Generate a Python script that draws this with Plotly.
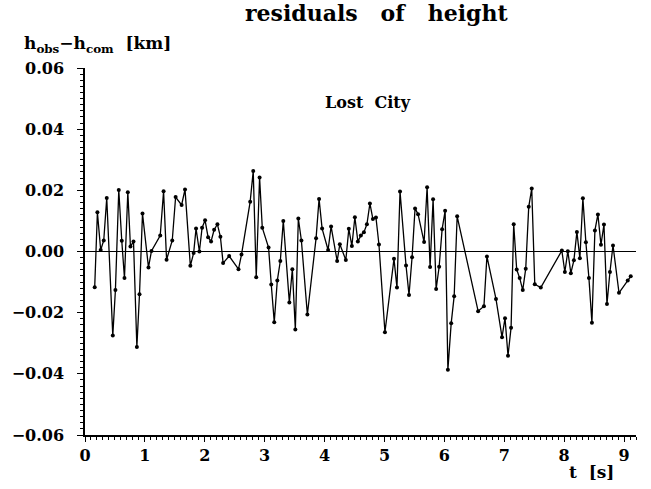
import plotly.graph_objects as go

t_s = [0.162, 0.207, 0.262, 0.313, 0.363, 0.464, 0.508, 0.564, 0.614, 0.659,
       0.715, 0.759, 0.810, 0.866, 0.910, 0.960, 1.060, 1.110, 1.256, 1.312,
       1.362, 1.457, 1.513, 1.613, 1.670, 1.759, 1.814, 1.854, 1.910, 1.955,
       2.005, 2.055, 2.105, 2.156, 2.211, 2.261, 2.306, 2.407, 2.563, 2.613,
       2.758, 2.809, 2.859, 2.915, 2.960, 3.065, 3.110, 3.160, 3.211, 3.261,
       3.311, 3.412, 3.462, 3.512, 3.562, 3.613, 3.713, 3.858, 3.908, 3.959,
       4.059, 4.109, 4.210, 4.255, 4.355, 4.405, 4.456, 4.506, 4.556, 4.606,
       4.657, 4.707, 4.757, 4.807, 4.858, 4.908, 5.008, 5.159, 5.209, 5.260,
       5.360, 5.410, 5.461, 5.511, 5.561, 5.662, 5.712, 5.762, 5.812, 5.863,
       5.913, 5.963, 6.013, 6.059, 6.114, 6.164, 6.214, 6.564, 6.661, 6.711,
       6.862, 6.963, 7.013, 7.063, 7.114, 7.158, 7.208, 7.258, 7.309, 7.359,
       7.409, 7.459, 7.510, 7.610, 7.962, 8.012, 8.062, 8.112, 8.163, 8.213,
       8.263, 8.313, 8.363, 8.414, 8.464, 8.514, 8.564, 8.615, 8.665, 8.715,
       8.765, 8.816, 8.916, 9.062, 9.112]

residual_km = [-0.0117, 0.0128, 0.0005, 0.0036, 0.0175, -0.0275, -0.0126, 0.0201, 0.0035, -0.0087,
               0.0194, 0.0016, 0.0033, -0.0312, -0.0140, 0.0124, -0.0052, 0.0002, 0.0052, 0.0197,
               -0.0027, 0.0036, 0.0178, 0.0152, 0.0203, -0.0047, -0.0005, 0.0075, 0.0000, 0.0078,
               0.0102, 0.0047, 0.0033, 0.0071, 0.0089, 0.0048, -0.0038, -0.0015, -0.0058, -0.0010,
               0.0163, 0.0263, -0.0084, 0.0242, 0.0078, 0.0013, -0.0108, -0.0231, -0.0095, -0.0031,
               0.0100, -0.0167, -0.0058, -0.0255, 0.0108, 0.0036, -0.0206, 0.0043, 0.0172, 0.0075,
               0.0005, 0.0082, -0.0031, 0.0024, -0.0028, 0.0074, 0.0018, 0.0112, 0.0033, 0.0052,
               0.0063, 0.0089, 0.0157, 0.0106, 0.0111, 0.0023, -0.0264, -0.0024, -0.0118, 0.0196,
               -0.0046, -0.0142, -0.0019, 0.0141, 0.0122, 0.0031, 0.0210, -0.0051, 0.0171, -0.0123,
               -0.0050, 0.0073, 0.0133, -0.0387, -0.0235, -0.0146, 0.0115, -0.0195, -0.0179, -0.0016,
               -0.0155, -0.0280, -0.0218, -0.0341, -0.0249, 0.0089, -0.0059, -0.0087, -0.0126, -0.0056,
               0.0146, 0.0206, -0.0107, -0.0118, 0.0003, -0.0067, 0.0001, -0.0071, -0.0029, 0.0064,
               -0.0022, 0.0174, 0.0030, -0.0087, -0.0233, 0.0069, 0.0121, 0.0022, 0.0088, -0.0172,
               -0.0067, 0.0020, -0.0135, -0.0095, -0.0081]

x_ticks = [0, 1, 2, 3, 4, 5, 6, 7, 8, 9]
y_ticks = [-0.06, -0.04, -0.02, 0.00, 0.02, 0.04, 0.06]

FONT = "DejaVu Serif"

fig = go.Figure()
fig.add_trace(go.Scatter(
    x=t_s, y=residual_km, mode="lines+markers",
    line=dict(color="black", width=1.3),
    marker=dict(color="black", size=4),
    showlegend=False,
))

axis_common = dict(
    showline=True, linecolor="black", linewidth=1.5,
    ticks="outside", tickcolor="black", tickwidth=1.2,
    showgrid=False, mirror=False,
    tickfont=dict(family=FONT, size=16, color="black", weight="bold"),
)

fig.update_xaxes(
    range=[0, 9.2], tickvals=x_ticks, zeroline=False, ticklen=5, ticklabelstandoff=0,
    minor=dict(dtick=0.1, ticklen=3, ticks="outside", tickcolor="black", tickwidth=1, showgrid=False),
    **axis_common,
)
fig.update_yaxes(
    range=[-0.06, 0.06], tickvals=y_ticks, tickformat=".2f", ticklen=6,
    zeroline=True, zerolinecolor="black", zerolinewidth=1.2, ticklabelstandoff=10,
    minor=dict(dtick=0.002, ticklen=3, ticks="outside", tickcolor="black", tickwidth=1, showgrid=False),
    **axis_common,
)

fig.update_layout(
    width=651, height=489,
    margin=dict(l=85, r=15, t=68, b=54),
    plot_bgcolor="white", paper_bgcolor="white",
    title=dict(text="<b>residuals&nbsp;&nbsp; of&nbsp;&nbsp; height</b>", x=0.578, xanchor="center",
               y=0.972, yanchor="middle",
               font=dict(family=FONT, size=22, color="black")),
    annotations=[
        dict(text="<b>h<sub>obs</sub>−h<sub>com</sub>&nbsp; [km]</b>", xref="paper", yref="paper",
             x=-0.114, y=1.063, xanchor="left", yanchor="middle", showarrow=False,
             font=dict(family=FONT, size=17, color="black")),
        dict(text="<b>Lost&nbsp; City</b>", xref="paper", yref="paper",
             x=0.514, y=0.905, xanchor="center", yanchor="middle", showarrow=False,
             font=dict(family=FONT, size=16, color="black")),
        dict(text="<b>t&nbsp; [s]</b>", xref="paper", yref="paper",
             x=0.9637, y=-0.102, xanchor="right", yanchor="middle", showarrow=False,
             font=dict(family=FONT, size=17, color="black")),
    ],
)

fig.write_html("out.html")
